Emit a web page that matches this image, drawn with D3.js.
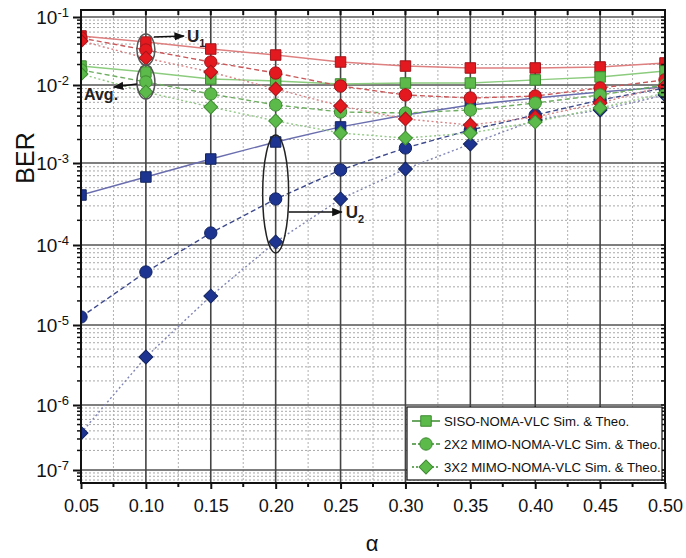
<!DOCTYPE html>
<html>
<head>
<meta charset="utf-8">
<script src="https://cdn.jsdelivr.net/npm/d3@7"></script>
<style>
  html, body { margin: 0; padding: 0; background: #fff; }
  svg { display: block; font-family: Arial, "Liberation Sans", sans-serif; }
</style>
</head>
<body>
<svg id="chart" width="686" height="558"></svg>
<script>
// ---------- data ----------
const alpha = [0.05, 0.10, 0.15, 0.20, 0.25, 0.30, 0.35, 0.40, 0.45, 0.50];
const xTickLabels = ["0.05","0.10","0.15","0.20","0.25","0.30","0.35","0.40","0.45","0.50"];
const yTickExponents = [-1, -2, -3, -4, -5, -6, -7];

// SISO-NOMA-VLC (squares)
const sisoU1  = [0.0526, 0.0428, 0.0338, 0.0276, 0.0218, 0.0190, 0.0178, 0.0178, 0.0184, 0.0211];
const sisoAvg = [0.0190, 0.0155, 0.01225, 0.01146, 0.01035, 0.0107, 0.0107, 0.0119, 0.01312, 0.0161];
const sisoU2  = [4.07e-4, 6.75e-4, 1.125e-3, 1.86e-3, 2.9e-3, 4.12e-3, 5.55e-3, 6.81e-3, 8.13e-3, 9.42e-3];
// 2X2 MIMO-NOMA-VLC (circles)
const mimo22U1  = [0.0491, 0.0327, 0.0218, 0.0150, 0.0097, 0.00745, 0.00681, 0.00722, 0.00916, 0.0119];
const mimo22Avg = [0.01664, 0.01107, 0.00767, 0.00555, 0.00451, 0.00438, 0.00478, 0.00588, 0.00745, 0.0100];
const mimo22U2  = [1.26e-5, 4.6e-5, 1.4e-4, 3.64e-4, 8.22e-4, 1.56e-3, 2.65e-3, 4.12e-3, 6.42e-3, 9.15e-3];
// 3X2 MIMO-NOMA-VLC (diamonds)
const mimo32U1  = [0.0444, 0.0249, 0.0155, 0.00889, 0.00538, 0.00367, 0.00307, 0.00389, 0.00588, 0.0097];
const mimo32Avg = [0.01452, 0.00813, 0.00522, 0.00346, 0.00242, 0.00209, 0.00242, 0.00336, 0.00507, 0.00789];
const mimo32U2  = [3.7e-7, 3.98e-6, 2.3e-5, 1.09e-4, 3.64e-4, 8.45e-4, 1.75e-3, 3.56e-3, 4.78e-3, 7.45e-3];

const legendLabels = ["SISO-NOMA-VLC Sim. & Theo.", "2X2 MIMO-NOMA-VLC Sim. & Theo.", "3X2 MIMO-NOMA-VLC Sim. & Theo."];

// ---------- layout ----------
const svg = d3.select("#chart");
const L = 81, R = 665, T = 10, B = 483;

const x = d3.scaleLinear().domain([0.05, 0.50]).range([L, R]);
// piecewise log scale (decade spacing follows the reference's label positions)
const y = d3.scaleLog()
  .domain([0.127, 1e-1, 1e-2, 1e-3, 1e-4, 1e-5, 1e-6, 1e-7, 6.3e-8])
  .range([T, 17, 85, 163, 245, 325, 405, 470, B]);

const colors = { red: "#e3191f", green: "#5cba4a", blue: "#1d3590" };
const strokes = { red: "#a3141a", green: "#3d8a30", blue: "#13245f" };

const defs = svg.append("defs");
defs.append("clipPath").attr("id", "plotclip")
  .append("rect").attr("x", L).attr("y", T).attr("width", R - L).attr("height", B - T);
defs.append("marker").attr("id", "arrow").attr("viewBox", "0 0 10 10")
  .attr("refX", 9).attr("refY", 5).attr("markerWidth", 7).attr("markerHeight", 7)
  .attr("orient", "auto-start-reverse")
  .append("path").attr("d", "M0,1 L10,5 L0,9 z").attr("fill", "#111");

// ---------- grid ----------
const grid = svg.append("g");
const minorVals = [];
for (let e = -8; e <= -1; e++) for (let k = 2; k <= 9; k++) {
  const v = k * Math.pow(10, e);
  if (v <= 0.127 && v >= 6.3e-8) minorVals.push(v);
}
grid.selectAll(".hmin").data(minorVals).join("line")
  .attr("x1", L).attr("x2", R).attr("y1", d => y(d)).attr("y2", d => y(d))
  .attr("stroke", "#a8a8a8").attr("stroke-width", 1).attr("stroke-dasharray", "2,2");
const xMinor = d3.range(0.075, 0.5, 0.05);
grid.selectAll(".vmin").data(xMinor).join("line")
  .attr("x1", d => x(d)).attr("x2", d => x(d)).attr("y1", T).attr("y2", B)
  .attr("stroke", "#b0b0b0").attr("stroke-width", 1).attr("stroke-dasharray", "2,2");
const decades = yTickExponents.map(e => Math.pow(10, e));
grid.selectAll(".hmaj").data(decades).join("line")
  .attr("x1", L).attr("x2", R).attr("y1", d => y(d)).attr("y2", d => y(d))
  .attr("stroke", "#555").attr("stroke-width", 1.4);
grid.selectAll(".vmaj").data(alpha).join("line")
  .attr("x1", d => x(d)).attr("x2", d => x(d)).attr("y1", T).attr("y2", B)
  .attr("stroke", "#444").attr("stroke-width", 1.6);

// ---------- series ----------
const series = [
  { v: sisoU2,    c: "blue",  lc: "#6a6eae", shape: "square",  dash: null },
  { v: sisoU1,    c: "red",   lc: "#df8080", shape: "square",  dash: null },
  { v: sisoAvg,   c: "green", lc: "#8ccc7e", shape: "square",  dash: null },
  { v: mimo22U2,  c: "blue",  lc: "#3e4a8c", shape: "circle",  dash: "5,3" },
  { v: mimo22U1,  c: "red",   lc: "#c9585a", shape: "circle",  dash: "5,3" },
  { v: mimo22Avg, c: "green", lc: "#6fae62", shape: "circle",  dash: "5,3" },
  { v: mimo32U2,  c: "blue",  lc: "#8286b4", shape: "diamond", dash: "2,2.5" },
  { v: mimo32U1,  c: "red",   lc: "#d98486", shape: "diamond", dash: "2,2.5" },
  { v: mimo32Avg, c: "green", lc: "#93c986", shape: "diamond", dash: "2,2.5" }
];
function symPath(shape) {
  if (shape === "circle") return d3.symbol().type(d3.symbolCircle).size(120)();
  return d3.symbol().type(d3.symbolSquare).size(shape === "square" ? 110 : 96)();
}
function symTransform(shape, px, py) {
  return `translate(${px},${py})` + (shape === "diamond" ? " rotate(45)" : "");
}

const plot = svg.append("g").attr("clip-path", "url(#plotclip)");
const line = d3.line().x((d, i) => x(alpha[i])).y(d => y(d));
series.forEach(s => {
  plot.append("path").datum(s.v).attr("d", line)
    .attr("fill", "none").attr("stroke", s.lc)
    .attr("stroke-width", 1.4)
    .attr("stroke-dasharray", s.dash);
});
series.forEach(s => {
  plot.selectAll(null).data(s.v).join("path")
    .attr("transform", (d, i) => symTransform(s.shape, x(alpha[i]), y(d)))
    .attr("d", symPath(s.shape))
    .attr("fill", colors[s.c]).attr("stroke", strokes[s.c]).attr("stroke-width", 1);
});

// ---------- frame & axes ----------
svg.append("rect").attr("x", L).attr("y", T).attr("width", R - L).attr("height", B - T)
  .attr("fill", "none").attr("stroke", "#111").attr("stroke-width", 2);

const xAxis = d3.axisBottom(x).tickValues(alpha).tickFormat((d, i) => xTickLabels[i])
  .tickSize(6).tickPadding(10);
const gx = svg.append("g").attr("transform", `translate(0,${B})`).call(xAxis);
gx.select(".domain").remove();
gx.selectAll("text").attr("font-size", 18).attr("fill", "#111");
gx.selectAll("line").attr("stroke", "#111").attr("stroke-width", 2);
svg.append("g").selectAll("line").data(xMinor).join("line")
  .attr("x1", d => x(d)).attr("x2", d => x(d)).attr("y1", B).attr("y2", B + 4)
  .attr("stroke", "#111").attr("stroke-width", 2);
svg.append("g").selectAll("line").data(alpha.concat(xMinor)).join("line")
  .attr("x1", d => x(d)).attr("x2", d => x(d)).attr("y1", T).attr("y2", T + 5)
  .attr("stroke", "#111").attr("stroke-width", 2);

const yAxis = d3.axisLeft(y).tickValues(decades).tickSize(8).tickPadding(4).tickFormat(() => "");
const gy = svg.append("g").attr("transform", `translate(${L},0)`).call(yAxis);
gy.select(".domain").remove();
gy.selectAll("line").attr("stroke", "#111").attr("stroke-width", 2);
gy.selectAll(".tick").each(function(d, i) {
  const t = d3.select(this).append("text").attr("x", -12).attr("dy", "0.35em")
    .attr("text-anchor", "end").attr("fill", "#111").attr("font-size", 19);
  t.append("tspan").text("10");
  t.append("tspan").attr("font-size", 13).attr("dy", "-0.55em").text(String(yTickExponents[i]));
});
svg.append("g").selectAll("line").data(minorVals).join("line")
  .attr("x1", L - 4).attr("x2", L).attr("y1", d => y(d)).attr("y2", d => y(d))
  .attr("stroke", "#111").attr("stroke-width", 1.5);
svg.append("g").selectAll("line").data(minorVals.concat(decades)).join("line")
  .attr("x1", R - 4).attr("x2", R).attr("y1", d => y(d)).attr("y2", d => y(d))
  .attr("stroke", "#111").attr("stroke-width", 1.5);

svg.append("text").attr("transform", "translate(34,158) rotate(-90)")
  .attr("text-anchor", "middle").attr("font-size", 25).attr("fill", "#111").text("BER");
svg.append("text").attr("x", 372).attr("y", 551).attr("text-anchor", "middle")
  .attr("font-size", 22).attr("fill", "#111").text("α");

// ---------- annotations ----------
const ann = svg.append("g");
const xa = x(0.10);
const u1Top = y(sisoU1[1]) - 8, u1Bot = y(mimo32U1[1]) + 7;
ann.append("ellipse").attr("cx", xa).attr("cy", (u1Top + u1Bot) / 2)
  .attr("rx", 9).attr("ry", (u1Bot - u1Top) / 2)
  .attr("fill", "none").attr("stroke", "#555").attr("stroke-width", 1.5);
ann.append("line").attr("x1", xa + 8).attr("y1", u1Top + 3).attr("x2", xa + 38).attr("y2", u1Top + 2)
  .attr("stroke", "#111").attr("stroke-width", 1.5).attr("marker-end", "url(#arrow)");
const u1t = ann.append("text").attr("x", xa + 41).attr("y", u1Top + 8)
  .attr("font-size", 17).attr("font-weight", "bold").attr("fill", "#222");
u1t.append("tspan").text("U");
u1t.append("tspan").attr("font-size", 11).attr("dy", 5).text("1");
const avTop = y(sisoAvg[1]) - 7, avBot = y(mimo32Avg[1]) + 7;
ann.append("ellipse").attr("cx", xa).attr("cy", (avTop + avBot) / 2)
  .attr("rx", 9).attr("ry", (avBot - avTop) / 2)
  .attr("fill", "none").attr("stroke", "#555").attr("stroke-width", 1.5);
ann.append("line").attr("x1", xa - 9).attr("y1", (avTop + avBot) / 2 + 2).attr("x2", xa - 32).attr("y2", (avTop + avBot) / 2 + 5)
  .attr("stroke", "#111").attr("stroke-width", 1.5).attr("marker-end", "url(#arrow)");
ann.append("text").attr("x", 84).attr("y", (avTop + avBot) / 2 + 18)
  .attr("font-size", 16).attr("font-weight", "bold").attr("fill", "#222").text("Avg.");
const xb = x(0.20);
const u2Top = y(sisoU2[3]) - 7, u2Bot = y(mimo32U2[3]) + 11;
ann.append("ellipse").attr("cx", xb).attr("cy", (u2Top + u2Bot) / 2)
  .attr("rx", 13).attr("ry", (u2Bot - u2Top) / 2)
  .attr("fill", "none").attr("stroke", "#222").attr("stroke-width", 1.5);
ann.append("line").attr("x1", xb + 13).attr("y1", 212).attr("x2", xb + 66).attr("y2", 212)
  .attr("stroke", "#111").attr("stroke-width", 1.5).attr("marker-end", "url(#arrow)");
const u2t = ann.append("text").attr("x", xb + 70).attr("y", 218)
  .attr("font-size", 17).attr("font-weight", "bold").attr("fill", "#222");
u2t.append("tspan").text("U");
u2t.append("tspan").attr("font-size", 11).attr("dy", 5).text("2");

// ---------- legend ----------
const lg = svg.append("g");
lg.append("rect").attr("x", 407).attr("y", 407).attr("width", 255).attr("height", 73)
  .attr("fill", "#fff").attr("stroke", "#111").attr("stroke-width", 1.2);
const legShapes = ["square", "circle", "diamond"];
const legDash = [null, "4,2", "2,2"];
legendLabels.forEach((lab, i) => {
  const ly = 421 + i * 23;
  lg.append("line").attr("x1", 412).attr("x2", 440).attr("y1", ly).attr("y2", ly)
    .attr("stroke", "#3d8a30").attr("stroke-width", 1.5).attr("stroke-dasharray", legDash[i]);
  lg.append("path").attr("transform", symTransform(legShapes[i], 426, ly))
    .attr("d", symPath(legShapes[i]))
    .attr("fill", colors.green).attr("stroke", strokes.green);
  lg.append("text").attr("x", 444).attr("y", ly).attr("dy", "0.35em")
    .attr("font-size", 13.2).attr("fill", "#111").text(lab);
});
</script>
</body>
</html>
